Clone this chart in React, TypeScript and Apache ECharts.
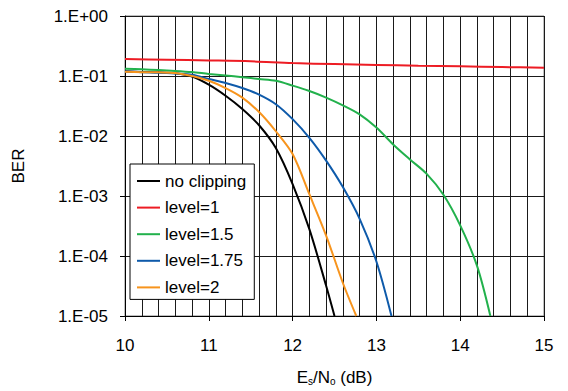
import React, { useEffect, useRef } from "react";
import * as echarts from "echarts";

const FONT = "'Liberation Sans', Arial, sans-serif";

const seriesNames = ["no clipping", "level=1", "level=1.5", "level=1.75", "level=2"];
const seriesColors = ["#000000", "#ED1C24", "#22B14C", "#0E5AAA", "#F7941D"];

const noClipX = [10, 10.2, 10.4, 10.6, 10.8, 11, 11.2, 11.4, 11.6, 11.8, 12, 12.2, 12.4, 12.5];
const noClipY = [0.12, 0.117, 0.115, 0.111, 0.098, 0.0716, 0.0468, 0.0282, 0.0151, 0.0063, 0.00158, 2.8e-4, 3.2e-5, 1.0e-5];

const level1X = [10, 10.5, 11, 11.5, 12, 12.5, 13, 13.5, 14, 14.5, 15];
const level1Y = [0.192, 0.187, 0.182, 0.176, 0.164, 0.158, 0.153, 0.148, 0.145, 0.141, 0.137];

const level15X = [10, 10.2, 10.4, 10.6, 10.8, 11, 11.2, 11.4, 11.6, 11.8, 12, 12.2, 12.4, 12.6, 12.8, 13, 13.2, 13.4, 13.6, 13.8, 14, 14.2, 14.36];
const level15Y = [0.132, 0.129, 0.126, 0.1216, 0.1161, 0.1084, 0.1023, 0.0955, 0.0891, 0.0832, 0.0692, 0.0562, 0.0437, 0.0324, 0.0229, 0.0138, 0.00724, 0.00407, 0.00234, 0.00105, 3.24e-4, 6.9e-5, 1.0e-5];

const level175X = [10, 10.2, 10.4, 10.6, 10.8, 11, 11.2, 11.4, 11.6, 11.8, 12, 12.2, 12.4, 12.6, 12.8, 13, 13.18];
const level175Y = [0.119, 0.116, 0.1135, 0.1096, 0.1047, 0.0891, 0.0767, 0.0631, 0.049, 0.0339, 0.0191, 0.00933, 0.00389, 0.00141, 4.17e-4, 8.1e-5, 1.0e-5];

const level2X = [10, 10.2, 10.4, 10.6, 10.8, 11, 11.2, 11.4, 11.6, 11.8, 12, 12.2, 12.4, 12.6, 12.76];
const level2Y = [0.1175, 0.116, 0.115, 0.112, 0.1, 0.0832, 0.063, 0.0437, 0.0251, 0.012, 0.005, 0.00107, 2.19e-4, 3.55e-5, 1.0e-5];

const allX = [noClipX, level1X, level15X, level175X, level2X];
const allY = [noClipY, level1Y, level15Y, level175Y, level2Y];

function fmtExp(v: number): string {
  const e = Math.round(Math.log10(v));
  return "1.E" + (e >= 0 ? "+" : "-") + String(Math.abs(e)).padStart(2, "0");
}

export default function App() {
  const ref = useRef<HTMLDivElement>(null);
  useEffect(() => {
    if (!ref.current) return;
    const chart = echarts.init(ref.current, null, { renderer: "svg" });
    const textBase = { fontFamily: FONT, fontSize: 17, color: "#000" };
    chart.setOption({
      animation: false,
      backgroundColor: "#fff",
      grid: {
        left: 125,
        right: 24,
        top: 16,
        bottom: 73,
        show: true,
        borderColor: "#808080",
        borderWidth: 1,
      },
      xAxis: [
        {
          type: "value",
          min: 10,
          max: 15,
          interval: 1,
          name: "{n|E}{s|s}{n|/N}{s|o}{n| (dB)}",
          nameLocation: "middle",
          nameGap: 50,
          nameTextStyle: {
            ...textBase,
            rich: {
              n: { fontFamily: FONT, fontSize: 17, color: "#000", verticalAlign: "bottom", lineHeight: 20 },
              s: { fontFamily: FONT, fontSize: 10, color: "#000", verticalAlign: "bottom", lineHeight: 14 },
            },
          },
          axisLine: { show: true, lineStyle: { color: "#000", width: 1 } },
          axisTick: { show: true, inside: false, length: 5, lineStyle: { color: "#000" } },
          axisLabel: { ...textBase, margin: 21, formatter: (v: number) => String(Math.round(v)) },
          splitLine: { show: false },
        },
        {
          type: "value",
          min: 10,
          max: 15,
          interval: 0.2,
          position: "bottom",
          axisLine: { show: false },
          axisTick: { show: false },
          axisLabel: { show: false },
          splitLine: { show: true, lineStyle: { color: "#1a1a1a", width: 1 } },
        },
      ],
      yAxis: {
        type: "log",
        logBase: 10,
        min: 1e-5,
        max: 1,
        name: "BER",
        nameLocation: "middle",
        nameGap: 98,
        nameTextStyle: { ...textBase },
        axisLine: { show: true, lineStyle: { color: "#000", width: 1 } },
        axisTick: { show: true, inside: false, length: 5, lineStyle: { color: "#000" } },
        axisLabel: { ...textBase, margin: 17, formatter: (v: number) => fmtExp(v) },
        splitLine: { show: true, lineStyle: { color: "#1a1a1a", width: 1 } },
        minorTick: { show: false },
      },
      legend: {
        orient: "vertical",
        left: 130,
        top: 164,
        icon: "rect",
        itemWidth: 23,
        itemHeight: 2,
        itemGap: 6.6,
        padding: [7, 8, 2, 7],
        backgroundColor: "#fff",
        borderColor: "#000",
        borderWidth: 1,
        borderRadius: 0,
        textStyle: { ...textBase, lineHeight: 20 },
        data: seriesNames,
      },
      series: seriesNames.map((name, i) => ({
        name,
        type: "line",
        xAxisIndex: 0,
        showSymbol: false,
        symbol: "none",
        smooth: 0.3,
        clip: true,
        color: seriesColors[i],
        lineStyle: { color: seriesColors[i], width: 2 },
        data: allX[i].map((x, j) => [x, allY[i][j]]),
      })),
    });
    return () => chart.dispose();
  }, []);
  return (
    <div
      ref={ref}
      style={{ position: "absolute", left: 0, top: 0, width: 568, height: 391 }}
    />
  );
}
